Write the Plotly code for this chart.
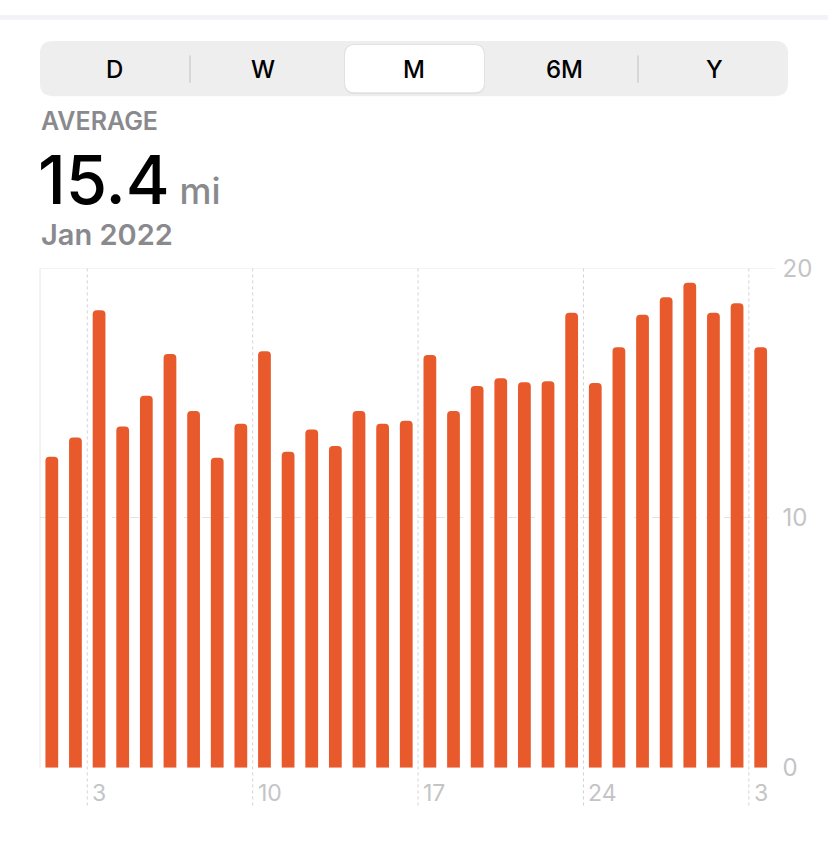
import plotly.graph_objects as go

# ---------------- data ----------------
days = list(range(1, 32))
distance_mi = [12.45, 13.22, 18.32, 13.66, 14.89, 16.56, 14.28, 12.41, 13.77, 16.67,
               12.65, 13.54, 12.88, 14.28, 13.77, 13.89, 16.52, 14.28, 15.28, 15.59,
               15.43, 15.47, 18.22, 15.40, 16.83, 18.14, 18.84, 19.42, 18.22, 18.60, 16.83]
week_bounds = [2.5, 9.5, 16.5, 23.5, 30.5]
week_labels = ["3", "10", "17", "24", "3"]
y_ticks = [0, 10, 20]
segments = ["D", "W", "M", "6M", "Y"]
selected_segment = "M"
average_value = "15.4"
unit = "mi"
period_label = "Jan 2022"

W, H = 828, 860
FONT = "Inter, Roboto, sans-serif"
BAR = "#E85A2B"
GRAY_TXT = "#8a8a8e"
AXIS_TXT = "#c4c4c6"


def px(x):
    return x / W


def py(y):
    return 1 - y / H


def rounded_path(x0, y0, x1, y1, r):
    rx, ry = r / W, r / H
    X0, X1 = px(x0), px(x1)
    Y0, Y1 = py(y0), py(y1)  # Y0 top (larger), Y1 bottom
    return (f"M {X0+rx},{Y0} L {X1-rx},{Y0} Q {X1},{Y0} {X1},{Y0-ry} "
            f"L {X1},{Y1+ry} Q {X1},{Y1} {X1-rx},{Y1} L {X0+rx},{Y1} "
            f"Q {X0},{Y1} {X0},{Y1+ry} L {X0},{Y0-ry} Q {X0},{Y0} {X0+rx},{Y0} Z")


fig = go.Figure()
fig.add_trace(go.Bar(x=days, y=distance_mi, marker=dict(color=BAR, line=dict(width=0),
                                                         cornerradius=4),
                     hoverinfo="skip"))

shapes = []
# top gray band
shapes.append(dict(type="rect", xref="paper", yref="paper", x0=0, x1=1, y0=py(5), y1=1,
                   fillcolor="#f2f2f7", line=dict(width=0), layer="below"))
# segmented control
shapes.append(dict(type="path", xref="paper", yref="paper", path=rounded_path(40, 27, 788, 84, 13),
                   fillcolor="#eeeeef", line=dict(width=0), layer="below"))
seg_centers = [114, 263, 414, 564, 714]
for s, cx in zip(segments, seg_centers):
    if s == selected_segment:
        shapes.append(dict(type="path", xref="paper", yref="paper",
                           path=rounded_path(cx - 70, 30, cx + 71, 82, 11),
                           fillcolor="rgba(0,0,0,0.05)", line=dict(width=0), layer="below"))
        shapes.append(dict(type="path", xref="paper", yref="paper",
                           path=rounded_path(cx - 69, 31, cx + 70, 80, 10),
                           fillcolor="#ffffff", line=dict(width=0), layer="below"))
for sx in [190, 638]:
    shapes.append(dict(type="line", xref="paper", yref="paper", x0=px(sx), x1=px(sx),
                       y0=py(42), y1=py(70), line=dict(color="#cfcfd3", width=1.5), layer="below"))

# week dashed lines
for wb in week_bounds:
    shapes.append(dict(type="line", xref="x", yref="paper", x0=wb, x1=wb,
                       y0=py(818), y1=py(262), line=dict(color="#d2d2d6", width=1, dash="3px,3px"),
                       layer="below"))
# top solid line (y=20)
shapes.append(dict(type="line", xref="paper", yref="y", x0=px(40), x1=px(775), y0=20, y1=20,
                   line=dict(color="#e6e6e8", width=1), layer="below"))
# left border
shapes.append(dict(type="line", xref="paper", yref="y", x0=px(40), x1=px(40), y0=0, y1=20,
                   line=dict(color="#e6e6e8", width=1), layer="below"))

annotations = []
for s, cx in zip(segments, seg_centers):
    annotations.append(dict(text=s, xref="paper", yref="paper", x=px(cx), y=py(56),
                            xanchor="center", yanchor="middle", showarrow=False,
                            font=dict(family=FONT, size=24, color="#000000", weight=500)))
annotations.append(dict(text="AVERAGE", xref="paper", yref="paper", x=px(39), y=py(110),
                        xanchor="left", yanchor="middle", showarrow=False,
                        font=dict(family=FONT, size=25, color=GRAY_TXT, weight=600)))
annotations.append(dict(text=(f"<span style='font-size:67px;color:#000000;font-weight:500'>{average_value}</span>"
                              f"<span style='font-size:36px;color:{GRAY_TXT};font-weight:500'> {unit}</span>"),
                        xref="paper", yref="paper", x=px(36), y=py(170),
                        xanchor="left", yanchor="middle", showarrow=False,
                        font=dict(family=FONT, size=36, color=GRAY_TXT)))
annotations.append(dict(text=period_label, xref="paper", yref="paper", x=px(39), y=py(227),
                        xanchor="left", yanchor="middle", showarrow=False,
                        font=dict(family=FONT, size=29, color=GRAY_TXT, weight=600)))
for wb, lab in zip(week_bounds, week_labels):
    annotations.append(dict(text=lab, xref="x", yref="paper", x=wb, y=py(805),
                            xanchor="left", yanchor="middle", xshift=3, showarrow=False,
                            font=dict(family=FONT, size=23, color=AXIS_TXT)))

fig.update_layout(
    width=W, height=H,
    margin=dict(l=0, r=0, t=0, b=0),
    paper_bgcolor="#ffffff", plot_bgcolor="#ffffff",
    showlegend=False,
    bargap=0.46,
    shapes=shapes,
    annotations=annotations,
    xaxis=dict(domain=[px(40), px(772.5)], range=[0.5, 31.5], showgrid=False, zeroline=False,
               showticklabels=False, ticks="", showline=False, fixedrange=True),
    yaxis=dict(domain=[py(779), py(262)], range=[0, 20], side="right", tickvals=y_ticks,
               showgrid=True, gridcolor="#e3e3e6", griddash="dash", gridwidth=1,
               zeroline=False, showline=False, ticks="", ticklabelstandoff=9,
               tickfont=dict(family=FONT, size=24, color=AXIS_TXT), fixedrange=True),
)

fig.write_html(
    "out.html",
    config={"displayModeBar": False},
    post_script=("var d=document.getElementById('{plot_id}');"
                 "d.style.position='fixed';d.style.top='0px';d.style.left='0px';"
                 "document.body.style.margin='0';document.documentElement.style.overflow='hidden';"),
)
